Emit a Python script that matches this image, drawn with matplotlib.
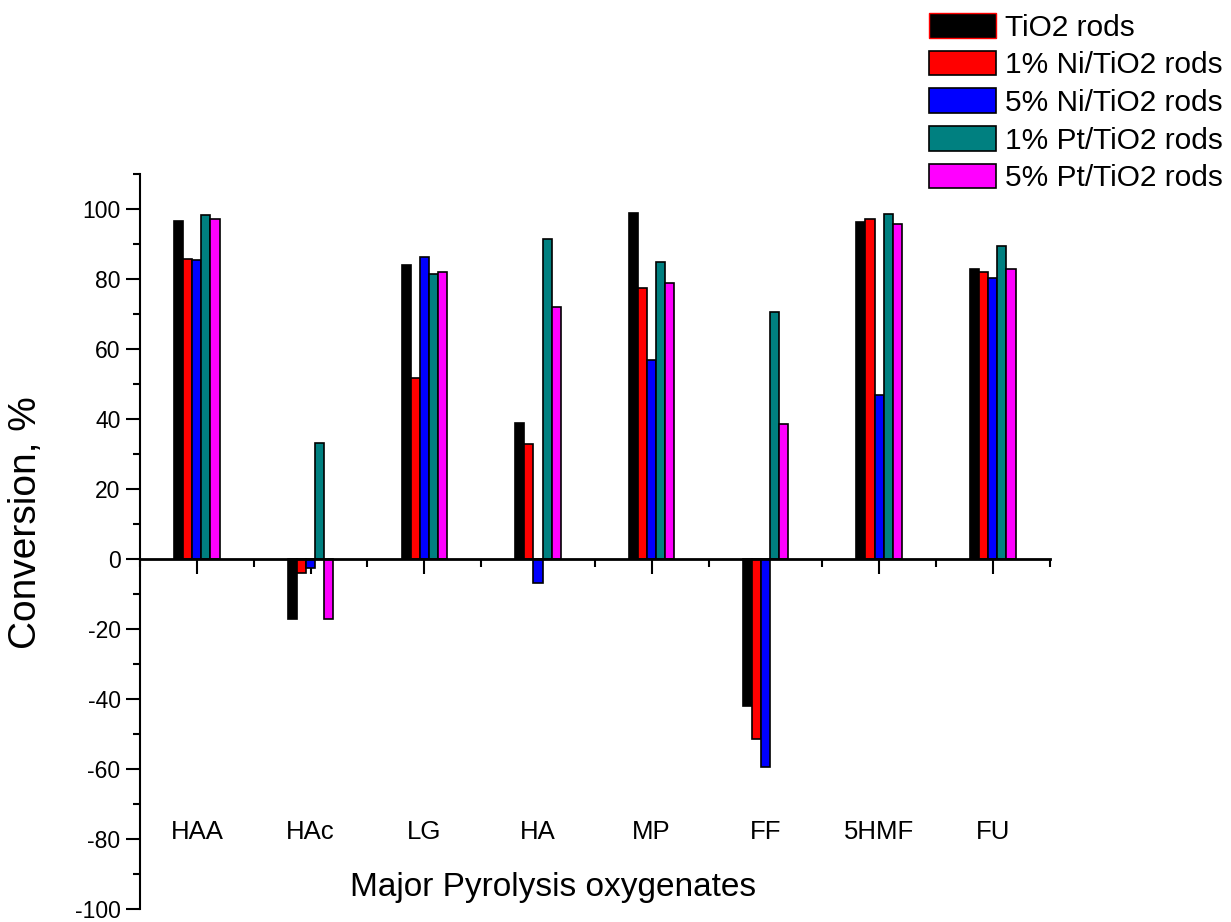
import matplotlib
matplotlib.use('Agg')
import matplotlib.pyplot as plt
import numpy as np
from matplotlib.patches import Patch
from matplotlib.ticker import MultipleLocator

# Define data.
categories = ['HAA', 'HAc', 'LG', 'HA', 'MP', 'FF', '5HMF', 'FU']
series = ['TiO2 rods', '1% Ni/TiO2 rods', '5% Ni/TiO2 rods',
          '1% Pt/TiO2 rods', '5% Pt/TiO2 rods']
tio2 = [96.5, -17, 84, 39, 98.8, -42, 96.2, 82.8]
ni1 = [85.8, -4, 51.7, 33, 77.5, -51.3, 97.1, 82]
ni5 = [85.5, -2.5, 86.2, -6.9, 56.8, -59.5, 46.9, 80.4]
pt1 = [98.3, 33.2, 81.4, 91.5, 84.9, 70.5, 98.7, 89.5]
pt5 = [97.1, -17, 82, 72.1, 78.9, 38.5, 95.8, 83]
colors = ['#000000', '#ff0000', '#0000ff', '#008080', '#ff00ff']

plt.rcParams['font.family'] = ['Liberation Sans', 'DejaVu Sans']
plt.rcParams['axes.unicode_minus'] = False

fig = plt.figure(figsize=(12.31, 9.22), dpi=100)
ax = fig.add_axes([0.1137, 0.0141, 0.739, 0.797])

x = np.arange(len(categories))
w = 0.08
for i, vals in enumerate([tio2, ni1, ni5, pt1, pt5]):
    ax.bar(x + (i - 2) * w, vals, w, color=colors[i],
           edgecolor='black', linewidth=1.2, zorder=2)

ax.set_xlim(-0.5, 7.5)
ax.set_ylim(-100, 110)

# Spines: left axis, zero line as the bottom spine.
ax.spines['top'].set_visible(False)
ax.spines['right'].set_visible(False)
ax.spines['left'].set_linewidth(1.5)
ax.spines['bottom'].set_position(('data', 0))
ax.spines['bottom'].set_linewidth(2)
ax.spines['bottom'].set_zorder(3)

ax.set_xticks(x)
ax.set_xticklabels([])
ax.xaxis.set_minor_locator(MultipleLocator(0.5))
ax.tick_params(axis='x', which='major', direction='out', length=11, width=1.5)
ax.tick_params(axis='x', which='minor', direction='out', length=6, width=1.5)

ax.set_yticks(np.arange(-100, 101, 20))
ax.yaxis.set_minor_locator(MultipleLocator(10))
ax.tick_params(axis='y', which='major', direction='out', length=10, width=1.5,
               labelsize=16.5, pad=4)
ax.tick_params(axis='y', which='minor', direction='out', length=5, width=1.5)

# Category labels sit low inside the plot area.
for xi, name in zip(x, categories):
    ax.text(xi, -74.5, name, ha='center', va='top', fontsize=18.5)

fig.text(553 / 1231, 1 - 887 / 922, 'Major Pyrolysis oxygenates',
         ha='center', va='center', fontsize=24)
fig.text(26 / 1231, 1 - 523 / 922, 'Conversion, %', rotation=90,
         ha='center', va='center', fontsize=28)

# Legend.
handles = [Patch(facecolor=c, edgecolor='black', linewidth=1.2) for c in colors]
handles[0] = Patch(facecolor='black', edgecolor='red', linewidth=1.0)
fig.legend(handles, series, loc='upper left',
           bbox_to_anchor=(929 / 1231, 1 - 13 / 922), frameon=False,
           fontsize=21.5, handlelength=2.25, handleheight=0.9,
           handletextpad=0.28, labelspacing=0.3, borderpad=0,
           borderaxespad=0)

plt.savefig('out.png', dpi=100)
